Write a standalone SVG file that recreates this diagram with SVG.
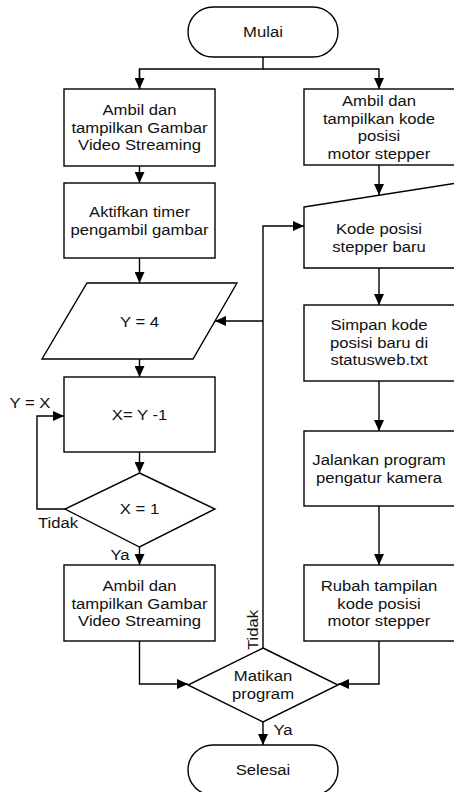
<svg xmlns="http://www.w3.org/2000/svg" width="454" height="792" viewBox="0 0 454 792">
<defs>
<marker id="ah" markerUnits="userSpaceOnUse" markerWidth="12" markerHeight="10" refX="11" refY="5" orient="auto">
<path d="M0,0 L11,5 L0,10 z" fill="#000"/>
</marker>
<style>
.s{fill:#fff;stroke:#000;stroke-width:1.4}
.c{fill:none;stroke:#000;stroke-width:1.4}
.a{marker-end:url(#ah)}
text{font-family:"Liberation Sans",Arial,sans-serif;font-size:14.5px;fill:#111}
.m{text-anchor:middle}
</style>
</defs>
<rect width="454" height="792" fill="#fff"/>
<g id="connectors">
<path class="c" d="M263,57 V69 H139.5 V89"/>
<path class="c a" d="M139.5,69 V89"/>
<path class="c a" d="M263,69 H379 V89"/>
<path class="c a" d="M139.5,166 V183"/>
<path class="c a" d="M139.5,258 V283"/>
<path class="c a" d="M139.5,359 V377"/>
<path class="c a" d="M139.5,452 V473"/>
<path class="c a" d="M65,509 H37 V416 H64"/>
<path class="c a" d="M139.5,547 V565"/>
<path class="c a" d="M139.5,641 V684 H188"/>
<path class="c a" d="M379,165 V195"/>
<path class="c a" d="M263,648 V226 H304"/>
<path class="c a" d="M263,321 H215"/>
<path class="c a" d="M379,268 V305"/>
<path class="c a" d="M379,381 V431"/>
<path class="c a" d="M379,506 V565"/>
<path class="c a" d="M379,641 V684 H338"/>
<path class="c a" d="M263,722 V745"/>
<text transform="translate(30,408) scale(1.15,1)" class="m">Y = X</text>
<text transform="translate(58,528) scale(1.15,1)" class="m">Tidak</text>
<text transform="translate(120,560) scale(1.15,1)" class="m">Ya</text>
<text transform="translate(258,630) rotate(-90) scale(1.15,1)" class="m">Tidak</text>
<text transform="translate(283,735) scale(1.15,1)" class="m">Ya</text>
</g>
<g id="mulai">
<rect class="s" x="188" y="7" width="150" height="50" rx="25"/>
<text transform="translate(263,37) scale(1.15,1)" class="m">Mulai</text>
</g>
<g id="ambil1">
<rect class="s" x="64" y="89" width="151" height="77"/>
<text transform="translate(139.5,115) scale(1.15,1)" class="m">Ambil dan</text>
<text transform="translate(139.5,132.5) scale(1.15,1)" class="m">tampilkan Gambar</text>
<text transform="translate(139.5,150) scale(1.15,1)" class="m">Video Streaming</text>
</g>
<g id="timer">
<rect class="s" x="64" y="183" width="151" height="75"/>
<text transform="translate(139.5,217) scale(1.15,1)" class="m">Aktifkan timer</text>
<text transform="translate(139.5,234.5) scale(1.15,1)" class="m">pengambil gambar</text>
</g>
<g id="y4">
<polygon class="s" points="87,283 237,283 193,359 42,359"/>
<text transform="translate(139.5,327) scale(1.15,1)" class="m">Y = 4</text>
</g>
<g id="xy">
<rect class="s" x="64" y="377" width="151" height="75"/>
<text transform="translate(139.5,420) scale(1.15,1)" class="m">X= Y -1</text>
</g>
<g id="x1">
<polygon class="s" points="139.5,473 215,509 139.5,547 65,509"/>
<text transform="translate(139.5,514) scale(1.15,1)" class="m">X = 1</text>
</g>
<g id="ambil2">
<rect class="s" x="64" y="565" width="151" height="76"/>
<text transform="translate(139.5,591) scale(1.15,1)" class="m">Ambil dan</text>
<text transform="translate(139.5,608.5) scale(1.15,1)" class="m">tampilkan Gambar</text>
<text transform="translate(139.5,626) scale(1.15,1)" class="m">Video Streaming</text>
</g>
<g id="kode1">
<rect class="s" x="304" y="89" width="153" height="76"/>
<text transform="translate(379,106) scale(1.15,1)" class="m">Ambil dan</text>
<text transform="translate(379,123.5) scale(1.15,1)" class="m">tampilkan kode</text>
<text transform="translate(379,141) scale(1.15,1)" class="m">posisi</text>
<text transform="translate(379,158.5) scale(1.15,1)" class="m">motor stepper</text>
</g>
<g id="kodebaru">
<polygon class="s" points="304,207 457,183 457,268 304,268"/>
<text transform="translate(379,234) scale(1.15,1)" class="m">Kode posisi</text>
<text transform="translate(379,251.5) scale(1.15,1)" class="m">stepper baru</text>
</g>
<g id="simpan">
<rect class="s" x="304" y="305" width="153" height="76"/>
<text transform="translate(379,330) scale(1.15,1)" class="m">Simpan kode</text>
<text transform="translate(379,347.5) scale(1.15,1)" class="m">posisi baru di</text>
<text transform="translate(379,365) scale(1.15,1)" class="m">statusweb.txt</text>
</g>
<g id="jalankan">
<rect class="s" x="304" y="431" width="153" height="75"/>
<text transform="translate(379,465) scale(1.15,1)" class="m">Jalankan program</text>
<text transform="translate(379,482.5) scale(1.15,1)" class="m">pengatur kamera</text>
</g>
<g id="rubah">
<rect class="s" x="304" y="565" width="153" height="76"/>
<text transform="translate(379,591) scale(1.15,1)" class="m">Rubah tampilan</text>
<text transform="translate(379,608.5) scale(1.15,1)" class="m">kode posisi</text>
<text transform="translate(379,626) scale(1.15,1)" class="m">motor stepper</text>
</g>
<g id="matikan">
<polygon class="s" points="263,648 338,685 263,722 188,685"/>
<text transform="translate(263,681) scale(1.15,1)" class="m">Matikan</text>
<text transform="translate(263,698.5) scale(1.15,1)" class="m">program</text>
</g>
<g id="selesai">
<rect class="s" x="188" y="745" width="150" height="50" rx="25"/>
<text transform="translate(263,775) scale(1.15,1)" class="m">Selesai</text>
</g>
</svg>
